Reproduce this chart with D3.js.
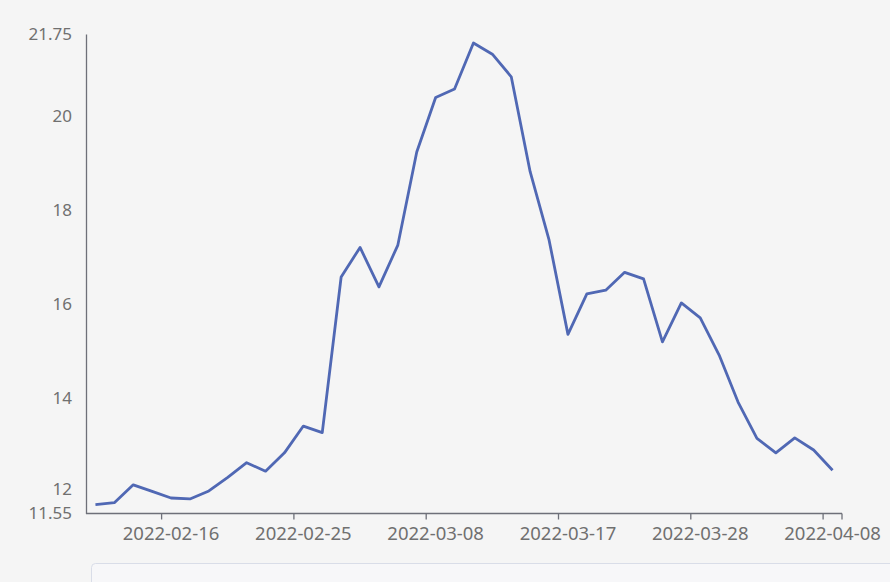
<!DOCTYPE html>
<html>
<head>
<meta charset="utf-8">
<script src="https://cdn.jsdelivr.net/npm/d3@7"></script>
<style>
  html, body { margin: 0; padding: 0; background: #f5f5f5; }
  svg { display: block; }
  text { font-family: "Noto Sans", "DejaVu Sans", sans-serif; }
</style>
</head>
<body>
<div id="chart"></div>
<script>
// trading days shown on the category axis
var dates = [
    "2022-02-10", "2022-02-11", "2022-02-14", "2022-02-15", "2022-02-16",
    "2022-02-17", "2022-02-18", "2022-02-21", "2022-02-22", "2022-02-23",
    "2022-02-24", "2022-02-25", "2022-02-28", "2022-03-01", "2022-03-02",
    "2022-03-03", "2022-03-04", "2022-03-07", "2022-03-08", "2022-03-09",
    "2022-03-10", "2022-03-11", "2022-03-14", "2022-03-15", "2022-03-16",
    "2022-03-17", "2022-03-18", "2022-03-21", "2022-03-22", "2022-03-23",
    "2022-03-24", "2022-03-25", "2022-03-28", "2022-03-29", "2022-03-30",
    "2022-03-31", "2022-04-01", "2022-04-06", "2022-04-07", "2022-04-08"
];

var values = [
    11.74, 11.78, 12.16, 12.02, 11.88, 11.86, 12.03, 12.32, 12.63, 12.45,
    12.84, 13.41, 13.27, 16.58, 17.21, 16.37, 17.26, 19.24, 20.40, 20.58,
    21.56, 21.32, 20.84, 18.82, 17.37, 15.36, 16.22, 16.30, 16.68, 16.54,
    15.20, 16.03, 15.71, 14.92, 13.92, 13.15, 12.84, 13.16, 12.90, 12.47
];

var yMin = 11.55, yMax = 21.75;
var yTicks = [11.55, 12, 14, 16, 18, 20, 21.75];
var labelEvery = 7;   // one label per 7 trading days
var labelStart = 4;   // first label sits on 2022-02-16

var width = 890, height = 582;
var margin = {left: 86, right: 48, top: 34, bottom: 68.5};

var svg = d3.select("#chart").append("svg")
    .attr("width", width)
    .attr("height", height);

svg.append("rect")
    .attr("width", width)
    .attr("height", height)
    .attr("fill", "#f5f5f5");

var x = d3.scaleBand()
    .domain(dates)
    .range([margin.left, width - margin.right]);

var y = d3.scaleLinear()
    .domain([yMin, yMax])
    .range([height - margin.bottom, margin.top]);

var textColor = "#707070";
var axisColor = "#6e7079";

// y axis: line and labels only, no ticks
var yAxis = svg.append("g")
    .attr("transform", "translate(" + margin.left + ",0)")
    .call(d3.axisLeft(y).tickValues(yTicks).tickSize(0).tickPadding(14)
        .tickFormat(function(d){ return d3.format("")(+d.toFixed(2)); }));
yAxis.select(".domain").attr("stroke", axisColor).attr("stroke-width", 1.3);
yAxis.selectAll("text")
    .attr("fill", textColor)
    .attr("font-size", "17px");
// keep the "12" label clear of the axis minimum label just under it
yAxis.selectAll(".tick").filter(function(d){ return d === 12; })
    .select("text").attr("dy", "0.1em");

// x axis: ticks on band boundaries, labels at band centres
var labelled = dates.filter(function(d, i){ return i >= labelStart && (i - labelStart) % labelEvery === 0; });
var xg = svg.append("g")
    .attr("transform", "translate(0," + (height - margin.bottom) + ")");

xg.append("line")
    .attr("x1", margin.left)
    .attr("x2", width - margin.right)
    .attr("stroke", axisColor)
    .attr("stroke-width", 1.3);

var tickXs = labelled.map(function(d){ return x(d); }).concat([width - margin.right]);
xg.selectAll("line.tick")
    .data(tickXs)
    .enter().append("line")
    .attr("class", "tick")
    .attr("x1", function(d){ return d; })
    .attr("x2", function(d){ return d; })
    .attr("y1", 0)
    .attr("y2", 6)
    .attr("stroke", axisColor)
    .attr("stroke-width", 1.3);

xg.selectAll("text")
    .data(labelled)
    .enter().append("text")
    .attr("x", function(d){ return x(d) + x.bandwidth() / 2; })
    .attr("y", 26)
    .attr("text-anchor", "middle")
    .attr("fill", textColor)
    .attr("font-size", "18.5px")
    .text(function(d){ return d; });

// the series
var line = d3.line()
    .x(function(d, i){ return x(dates[i]) + x.bandwidth() / 2; })
    .y(function(d){ return y(d); });

svg.append("path")
    .datum(values)
    .attr("d", line)
    .attr("fill", "none")
    .attr("stroke", "#5068b4")
    .attr("stroke-width", 2.8)
    .attr("stroke-linejoin", "round");

// data zoom box peeking in at the bottom
svg.append("rect")
    .attr("x", 91.5)
    .attr("y", 563.5)
    .attr("width", 850)
    .attr("height", 40)
    .attr("rx", 4)
    .attr("fill", "#f7f7f9")
    .attr("stroke", "#d9dde8");
</script>
</body>
</html>
